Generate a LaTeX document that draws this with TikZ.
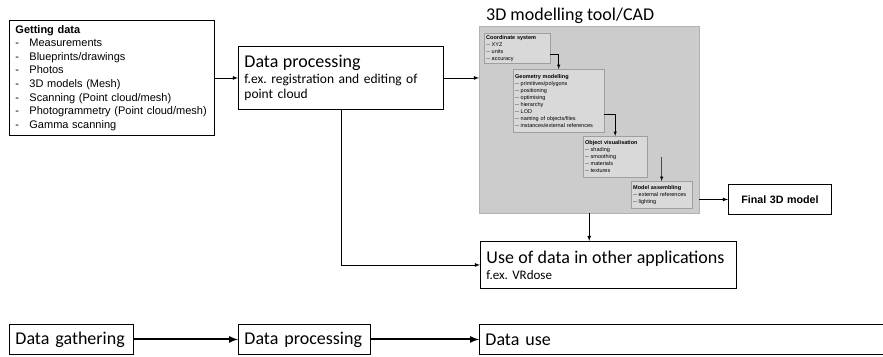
\documentclass[tikz,border=0pt]{standalone}
\usepackage{fontspec}
\setmainfont{Carlito}
\newfontfamily\arialfont{Liberation Sans}
\usetikzlibrary{positioning}

\newcommand{\gditem}[1]{\makebox[14pt][l]{-}#1}

\tikzset{
  box/.style={draw, line width=0.9pt, anchor=north west, inner xsep=6pt, inner ysep=2pt, align=left},
  subbox/.style={draw=gray!75, fill=gray!30, anchor=north west, inner xsep=2pt, inner ysep=1pt, align=left,
    font=\arialfont\fontsize{5.5}{7}\selectfont},
  flow/.style={->, >=latex, line width=0.8pt},
  bigflow/.style={->, >=latex, line width=2pt}
}

\begin{document}
\frenchspacing
\begin{tikzpicture}[x=1pt, y=-1pt]
	\useasboundingbox (0,0) rectangle (883,356);

	% top flow
	\node[box, minimum width=205, minimum height=115, text width=193, font=\arialfont\fontsize{11}{13.6}\selectfont] (getdata) at (9,20)
		{\textbf{Getting data}\\ \gditem{Measurements}\\ \gditem{Blueprints/drawings}\\ \gditem{Photos}\\
		 \gditem{3D models (Mesh)}\\ \gditem{Scanning (Point cloud/mesh)}\\
		 \gditem{Photogrammetry (Point cloud/mesh)}\\ \gditem{Gamma scanning}};
	\node[box, minimum width=205, minimum height=63, text width=193, font=\fontsize{13.5}{15.5}\selectfont] (proc) at (238,46)
		{{\fontsize{18}{20}\selectfont Data processing}\\
		 f.ex. registration and editing of\\ point cloud};

	% 3D modelling tool
	\node[draw=gray!60, fill=gray!40, anchor=north west, minimum width=220, minimum height=187, inner sep=0pt] (cad) at (479,26) {};
	\node[anchor=base west, inner sep=0pt, font=\fontsize{18}{20}\selectfont] (cadtitle) at (486,20) {3D modelling tool/CAD};
	\node[subbox, minimum width=66, minimum height=30, text width=62] (coord) at (484,33)
		{\textbf{Coordinate system}\\ -- XYZ\\ -- units\\ -- accuracy};
	\node[subbox, minimum width=91, minimum height=63, text width=87] (geom) at (513,69)
		{\textbf{Geometry modelling}\\ -- primitives/polygons\\ -- positioning\\ -- optimising\\ -- hierarchy\\ -- LOD\\
		 -- naming of objects/files\\ -- instances/external references};
	\node[subbox, minimum width=64, minimum height=41, text width=60] (objv) at (583,136)
		{\textbf{Object visualisation}\\ -- shading\\ -- smoothing\\ -- materials\\ -- textures};
	\node[subbox, minimum width=61, minimum height=27, text width=57] (asm) at (631,181)
		{\textbf{Model assembling}\\ -- external references\\ -- lighting};
	\coordinate (asmin) at (661.5,157);

	\node[box, minimum width=103, minimum height=30, text width=91, align=center, font=\arialfont\bfseries\fontsize{10.7}{12}\selectfont] (final) at (728,184) {Final 3D model};
	\node[box, minimum width=256, minimum height=47, text width=244, font=\fontsize{13}{16}\selectfont] (use) at (480,241)
		{{\fontsize{18}{20}\selectfont Use of data in other applications}\\
		 f.ex. VRdose};

	\draw[flow] (getdata) -- (proc);
	\draw[flow] (proc.east) -- (proc.east -| cad.west);
	\draw[flow] (proc.south) |- (use.west);
	\draw[flow] (cad.south) -- (cad.south |- use.north);
	\draw[flow] (cad.east |- final.west) -- (final.west);
	\draw[->, >=latex, line width=0.5pt] ([yshift=-6pt]coord.east) -| (geom.north);
	\draw[->, >=latex, line width=0.5pt] ([yshift=-14pt]geom.east) -| (objv.north);
	\draw[->, >=latex, line width=0.5pt] (asmin) -- (asm.north);

	% bottom flow
	\node[box, minimum width=124, minimum height=30, text width=112, font=\fontsize{18}{20}\selectfont] (gather) at (9,324) {Data gathering};
	\node[box, minimum width=132, minimum height=30, text width=120, font=\fontsize{18}{20}\selectfont] (bproc) at (238,324) {Data processing};
	\node[box, minimum width=420, minimum height=30, text width=408, font=\fontsize{18}{20}\selectfont] (buse) at (479,324) {Data use};
	\draw[bigflow] (gather) -- (bproc);
	\draw[bigflow] (bproc) -- (buse);
\end{tikzpicture}
\end{document}
